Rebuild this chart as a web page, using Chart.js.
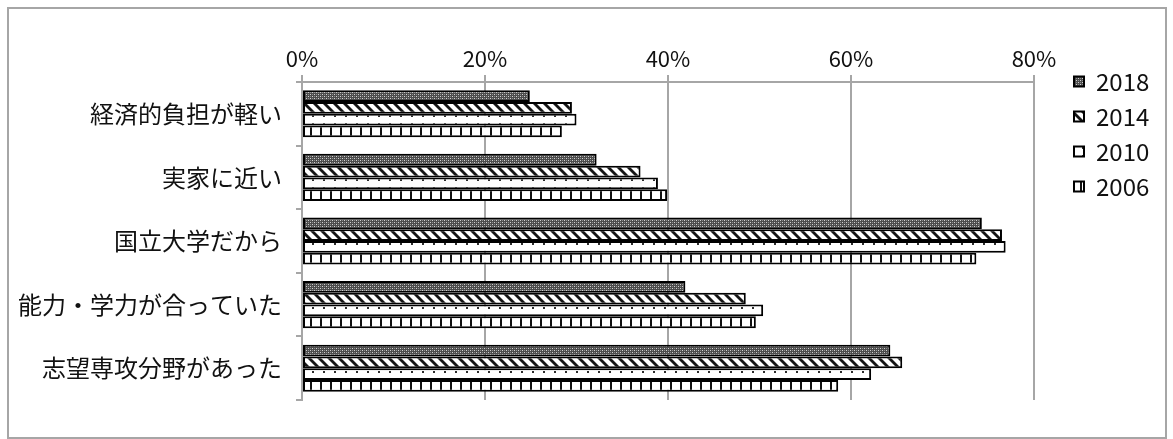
<!DOCTYPE html>
<html><head><meta charset="utf-8">
<script src="https://cdn.jsdelivr.net/npm/chart.js@4"></script>
<style>
html,body{margin:0;padding:0;background:#fff;}
#wrap{position:relative;width:1173px;height:439px;overflow:hidden;}
#frame{position:absolute;left:7px;top:7px;width:1156px;height:428px;border:2px solid #a6a6a6;pointer-events:none;}
canvas{position:absolute;left:0;top:0;}
</style></head><body>
<div id="wrap"><canvas id="c" width="1173" height="439"></canvas><div id="frame"></div></div>
<script>
const categories = ['経済的負担が軽い','実家に近い','国立大学だから','能力・学力が合っていた','志望専攻分野があった'];
const seriesLabels = ['2018','2014','2010','2006'];
const v2018 = [24.9, 32.2, 74.3, 41.9, 64.3];
const v2014 = [29.5, 37.0, 76.5, 48.5, 65.6];
const v2010 = [30.0, 38.9, 76.9, 50.4, 62.2];
const v2006 = [28.4, 39.9, 73.7, 49.6, 58.6];
const xMin = 0, xMax = 80, xStep = 20;

function makePattern(kind){
  const c = document.createElement('canvas');
  const g = c.getContext('2d');
  if (kind === 'dense'){
    c.width = 4; c.height = 4;
    g.fillStyle = '#4c4c4c'; g.fillRect(0,0,4,4);
    g.fillStyle = '#d0d0d0'; g.fillRect(0,0,1,1); g.fillRect(2,2,1,1);
    g.fillStyle = '#8c8c8c'; g.fillRect(2,0,1,1); g.fillRect(0,2,1,1);
  } else if (kind === 'diag'){
    c.width = 10; c.height = 10;
    g.fillStyle = '#fff'; g.fillRect(0,0,10,10);
    for (let y=0;y<10;y++) for (let x=0;x<10;x++){
      const d = ((x - y) % 10 + 10) % 10;
      if (d < 3){ g.fillStyle = '#151515'; g.fillRect(x,y,1,1); }
      else if (d === 3 || d === 9){ g.fillStyle = '#8a8a8a'; g.fillRect(x,y,1,1); }
    }
  } else if (kind === 'dots'){
    c.width = 11; c.height = 8;
    g.fillStyle = '#fff'; g.fillRect(0,0,11,8);
    g.fillStyle = '#2e2e2e'; g.fillRect(4,3,2,2);
  } else {
    c.width = 10; c.height = 2;
    g.fillStyle = '#fff'; g.fillRect(0,0,10,2);
    g.fillStyle = '#111'; g.fillRect(0,0,2,2);
  }
  return g.createPattern(c, 'repeat');
}

const patterns = [makePattern('dense'), makePattern('diag'), makePattern('dots'), makePattern('vlines')];
const seriesValues = [v2018, v2014, v2010, v2006];

const numFont = "'Noto Sans CJK JP',sans-serif";
const jpFont = "'Noto Sans CJK JP',sans-serif";
const gridCol = '#a6a6a6';

const legendPlace = {
  id: 'legendPlace',
  afterLayout(chart){
    const lg = chart.legend;
    if (!lg) return;
    const p = lg.options.labels.padding;
    const fs = lg.options.labels.font.size;
    const ih = fs * 1.2;
    lg.left = 1074 - p; lg.width = 110; lg.right = lg.left + lg.width;
    lg.top = 84 - ih/2 - p; lg.height = 320; lg.bottom = lg.top + lg.height;
  }
};

new Chart(document.getElementById('c'), {
  type: 'bar',
  data: {
    labels: categories,
    datasets: seriesLabels.map((lab, i) => ({
      label: lab,
      data: seriesValues[i],
      backgroundColor: patterns[i],
      borderColor: '#000',
      borderWidth: 2,
      borderSkipped: false,
      categoryPercentage: 0.74,
      barPercentage: 1.0
    }))
  },
  options: {
    indexAxis: 'y',
    responsive: false,
    animation: false,
    layout: { padding: { left: 0, top: 0, right: 139, bottom: 39 } },
    scales: {
      x: {
        position: 'top', min: xMin, max: xMax,
        ticks: { stepSize: xStep, callback: v => v + '%', color: '#111', padding: 3, font: { family: numFont, size: 22 } },
        grid: { color: gridCol, lineWidth: 2, tickLength: 7, tickColor: gridCol },
        border: { display: true, color: gridCol, width: 2 },
        afterFit(s){ s.height = 82; }
      },
      y: {
        ticks: { color: '#111', padding: 14, font: { family: jpFont, size: 24 } },
        grid: { drawOnChartArea: false, tickLength: 6, color: gridCol, lineWidth: 2, offset: true },
        border: { display: true, color: gridCol, width: 2 },
        afterFit(s){ s.width = 302; }
      }
    },
    plugins: {
      legend: {
        position: 'chartArea', align: 'start',
        labels: { boxWidth: 10, boxHeight: 10, padding: 11, color: '#111', font: { family: numFont, size: 24 } }
      },
      tooltip: { enabled: false }
    }
  },
  plugins: [legendPlace]
});
</script>
</body></html>
